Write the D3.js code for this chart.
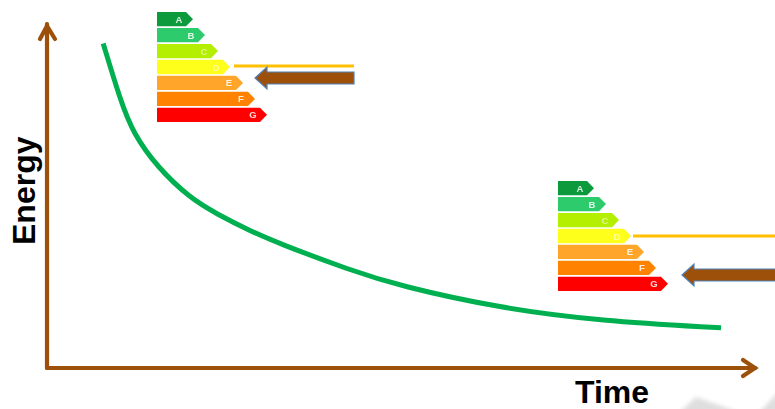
<!DOCTYPE html>
<html lang="en">
<head>
    <meta charset="UTF-8">
    <title>Energy over Time</title>
    <script src="https://d3js.org/d3.v7.min.js"></script>
    <style>
        html, body { margin: 0; padding: 0; background: #fff; overflow: hidden; }
        svg { display: block; }
        text { font-family: "Liberation Sans", Arial, sans-serif; }
    </style>
</head>
<body>
    <svg id="chart" width="775" height="409"></svg>

    <script>
        // values
        const time = [7.9, 10.3, 12.1, 15.5, 20.1, 23.9, 28.6, 32.5, 42.6, 49.6, 63.7, 77.8, 94.8];
        const energy = [93.8, 77.5, 67.9, 58.1, 49.1, 44.5, 39.6, 36.1, 28.3, 23.7, 17.3, 13.6, 11.6];
        const ratings = ["A", "B", "C", "D", "E", "F", "G"];
        const ratingLengths = [36, 48, 61, 73, 86, 98, 110];
        const ratingColors = ["#0a9a3e", "#2ecb6c", "#b4ee00", "#ffff1e", "#ffa62b", "#ff8200", "#ff0000"];

        const brown = "#9c5009";
        const svg = d3.select("#chart");

        const x = d3.scaleLinear().domain([0, 100]).range([47, 758]);
        const y = d3.scaleLinear().domain([0, 100]).range([368, 22]);

        const defs = svg.append("defs");
        defs.append("filter").attr("id", "soft").append("feGaussianBlur").attr("stdDeviation", 0.6);
        defs.append("filter").attr("id", "smudge").append("feGaussianBlur").attr("stdDeviation", 2);

        // grey smudges at the bottom edge of the scan
        const smudges = svg.append("g").attr("fill", "#dedede").attr("filter", "url(#smudge)");
        smudges.append("path").attr("d", "M678,414 L696,397 L738,412 Z");
        smudges.append("path").attr("d", "M758,414 L780,390 V414 Z");

        // axes
        const axes = svg.append("g").attr("fill", "none").attr("stroke", brown)
            .attr("stroke-width", 4.2).attr("stroke-linecap", "round").attr("stroke-linejoin", "miter");
        axes.append("path").attr("d", `M${x(0)},${y(0)} L${x(0)},${y(100) + 2}`);
        axes.append("path").attr("d", `M${x(0) - 7},${y(100) + 17} L${x(0)},${y(100) + 4} L${x(0) + 8},${y(100) + 17}`);
        axes.append("path").attr("d", `M${x(0)},${y(0)} L${x(100) - 3},${y(0)}`);
        axes.append("path").attr("d", `M${x(100) - 15},${y(0) - 8} L${x(100) - 3},${y(0)} L${x(100) - 15},${y(0) + 8}`);

        // curve
        const curve = d3.line().x(d => x(d[0])).y(d => y(d[1])).curve(d3.curveBasis);
        svg.append("path").datum(d3.zip(time, energy)).attr("d", curve)
            .attr("fill", "none").attr("stroke", "#00b050").attr("stroke-width", 5);

        // axis titles
        svg.append("text").attr("transform", "translate(35,245) rotate(-90)")
            .attr("font-size", 32).attr("font-weight", "bold").attr("fill", "#000").text("Energy");
        svg.append("text").attr("x", 575).attr("y", 403)
            .attr("font-size", 32).attr("font-weight", "bold").attr("fill", "#000").text("Time");

        // energy label: rows of arrow shaped bars
        function drawLabel(left, top, bottom) {
            const rowY = d3.scaleBand().domain(ratings).range([top, bottom]).paddingInner(0.1);
            const len = d3.scaleLinear().domain([0, 110]).range([0, 110]);
            const h = rowY.bandwidth();
            const g = svg.append("g").attr("filter", "url(#soft)");
            ratings.forEach((r, i) => {
                const w = len(ratingLengths[i]);
                const y0 = rowY(r);
                g.append("path")
                    .attr("d", `M${left},${y0} h${w - 7} l7,${h / 2} l-7,${h / 2} H${left} Z`)
                    .attr("fill", ratingColors[i]);
                g.append("text").attr("x", left + w - 14).attr("y", y0 + h / 2 + 3.5)
                    .attr("text-anchor", "middle").attr("font-size", 9.5).attr("font-weight", "bold")
                    .attr("fill", "#fff").attr("fill-opacity", r === "C" || r === "D" ? 0.55 : 0.85).text(r);
            });
        }
        drawLabel(157, 12, 122);
        drawLabel(558, 181, 291);

        // yellow marker line and brown arrow pointing at the label
        function drawMarkers(lineX0, lineX1, lineY, tipX, arrowY, endX) {
            svg.append("line").attr("x1", lineX0).attr("x2", lineX1).attr("y1", lineY).attr("y2", lineY)
                .attr("stroke", "#ffc000").attr("stroke-width", 2.8);
            svg.append("path")
                .attr("d", `M${tipX},${arrowY} L${tipX + 12},${arrowY - 11} V${arrowY - 6} H${endX} V${arrowY + 6} H${tipX + 12} V${arrowY + 11} Z`)
                .attr("fill", brown).attr("stroke", "#4f81bd").attr("stroke-width", 1.2);
        }
        drawMarkers(234, 354, 66, 255, 78, 354);
        drawMarkers(633, 775, 236, 682, 275, 777);
    </script>
</body>
</html>
